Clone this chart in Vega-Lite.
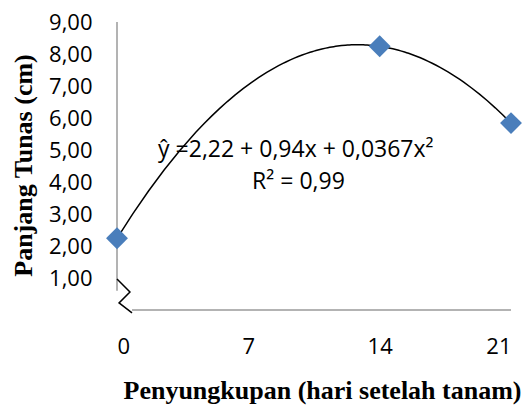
{
  "$schema": "https://vega.github.io/schema/vega-lite/v6.json",
  "width": 394,
  "height": 288,
  "autosize": {"type": "none"},
  "padding": {"left": 117, "top": 22, "right": 16, "bottom": 95},
  "config": {"view": {"stroke": null}},
  "datasets": {
    "obs": [
      {"x": 0, "y": 2.24},
      {"x": 14, "y": 8.24},
      {"x": 21, "y": 5.84}
    ],
    "yaxis": [{"x": 0, "y": 0.6, "y2": 9}],
    "xaxis": [{"x": 0.8, "x2": 21, "y": 0}],
    "zigzag": [
      {"i": 0, "x": 0, "y": 0.97},
      {"i": 1, "x": 0.69, "y": 0.56},
      {"i": 2, "x": 0.11, "y": 0.22},
      {"i": 3, "x": 0.8, "y": -0.09}
    ],
    "labels": [
      {"label": "ŷ =2,22 + 0,94x + 0,0367x²", "x": 2.19, "y": 4.79},
      {"label": "R² = 0,99", "x": 7.2, "y": 3.79}
    ]
  },
  "encoding": {
    "x": {
      "field": "x", "type": "quantitative",
      "scale": {"domain": [0, 21]},
      "axis": {
        "values": [0, 7, 14, 21],
        "domain": false, "ticks": false, "grid": false,
        "labelFont": "Open Sans", "labelFontSize": 22, "labelColor": "#000000",
        "labelBaseline": "alphabetic", "labelPadding": 43,
        "title": "Penyungkupan (hari setelah tanam)",
        "titleFont": "Liberation Serif", "titleFontSize": 26, "titleFontWeight": "bold", "titleColor": "#000000",
        "titleBaseline": "alphabetic", "titleAnchor": "middle", "titleX": 205, "titleY": 88
      }
    },
    "y": {
      "field": "y", "type": "quantitative",
      "scale": {"domain": [0, 9]},
      "axis": {
        "values": [1, 2, 3, 4, 5, 6, 7, 8, 9],
        "labelExpr": "replace(format(datum.value, '.2f'), '.', ',')",
        "domain": false, "ticks": false, "grid": false,
        "labelFont": "Open Sans", "labelFontSize": 22, "labelColor": "#000000",
        "labelPadding": 25,
        "title": "Panjang Tunas (cm)",
        "titleFont": "Liberation Serif", "titleFontSize": 26, "titleFontWeight": "bold", "titleColor": "#000000",
        "titleAngle": -90, "titleBaseline": "alphabetic", "titleAnchor": "middle", "titleX": -86, "titleY": 143
      }
    }
  },
  "layer": [
    {
      "data": {"name": "yaxis"},
      "mark": {"type": "rule", "color": "#9a9a9a", "strokeWidth": 1.5},
      "encoding": {"y2": {"field": "y2"}}
    },
    {
      "data": {"name": "xaxis"},
      "mark": {"type": "rule", "color": "#9a9a9a", "strokeWidth": 1.5},
      "encoding": {"x2": {"field": "x2"}}
    },
    {
      "data": {"name": "zigzag"},
      "mark": {"type": "line", "color": "#000000", "strokeWidth": 1.5},
      "encoding": {"order": {"field": "i"}}
    },
    {
      "data": {"name": "obs"},
      "transform": [
        {"regression": "y", "on": "x", "method": "poly", "order": 2, "extent": [0, 21]}
      ],
      "mark": {"type": "line", "color": "#000000", "strokeWidth": 1.5},
      "encoding": {}
    },
    {
      "data": {"name": "obs"},
      "mark": {"type": "point", "shape": "diamond", "filled": true, "color": "#4a7ebb", "opacity": 1, "size": 480},
      "encoding": {}
    },
    {
      "data": {"name": "labels"},
      "mark": {"type": "text", "align": "left", "baseline": "alphabetic", "font": "Open Sans", "fontSize": 23, "color": "#000000"},
      "encoding": {"text": {"field": "label"}}
    }
  ]
}
